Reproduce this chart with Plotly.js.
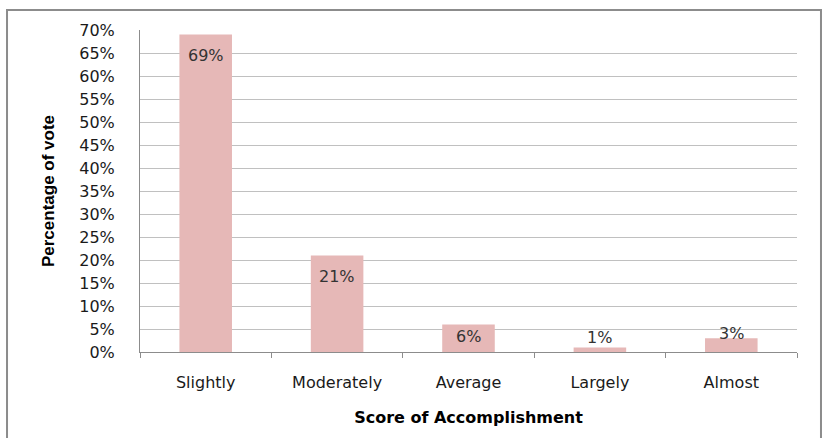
<!DOCTYPE html>
<html>
<head>
<meta charset="utf-8">
<script src="https://cdn.plot.ly/plotly-3.0.1.min.js"></script>
<style>
  html, body { margin: 0; padding: 0; background: #ffffff; }
  #chart { width: 835px; height: 438px; }
</style>
</head>
<body>
<div id="chart"></div>
<script>
const categories = ["Slightly", "Moderately", "Average", "Largely", "Almost"];
const percentages = [69, 21, 6, 1, 3];
const yTickValues = [0, 5, 10, 15, 20, 25, 30, 35, 40, 45, 50, 55, 60, 65, 70];

const yMax = 70;
const plotHeightPx = 322;

const barTrace = {
  type: "bar",
  x: categories,
  y: percentages,
  marker: { color: "#E6B8B7", line: { width: 0 } },
  hoverinfo: "skip",
  showlegend: false
};

const labelAnnotations = categories.map((c, i) => {
  const v = percentages[i];
  const barPx = v / yMax * plotHeightPx;
  const shift = v >= 5 ? -Math.min(21, barPx * 0.45) : (v < 2 ? 10 : 5);
  return {
    x: c, y: v, xref: "x", yref: "y",
    text: v + "%", showarrow: false,
    yanchor: "middle",
    yshift: shift,
    font: { family: "DejaVu Sans", size: 16, color: "#333333" }
  };
});

const layout = {
  width: 835,
  height: 438,
  margin: { l: 140, r: 38, t: 30, b: 86 },
  paper_bgcolor: "#ffffff",
  plot_bgcolor: "#ffffff",
  bargap: 0.6,
  font: { family: "DejaVu Sans", color: "#1a1a1a" },
  xaxis: {
    type: "category",
    tickson: "boundaries",
    ticks: "outside",
    ticklen: 5,
    tickcolor: "#8c8c8c",
    showline: true,
    linecolor: "#8c8c8c",
    linewidth: 1,
    showgrid: false,
    zeroline: false,
    tickfont: { family: "DejaVu Sans", size: 16, color: "#1a1a1a" },
    ticklabelstandoff: 16,
    title: {
      text: "<b>Score of Accomplishment</b>",
      font: { family: "DejaVu Sans", size: 16, color: "#000000" },
      standoff: 20
    },
    fixedrange: true
  },
  yaxis: {
    range: [0, yMax],
    tickvals: yTickValues,
    ticktext: yTickValues.map(v => v + "%"),
    ticks: "outside",
    ticklen: 21,
    tickcolor: "rgba(0,0,0,0)",
    showline: true,
    linecolor: "#8c8c8c",
    linewidth: 1,
    showgrid: true,
    gridcolor: "#c0c0c0",
    gridwidth: 1,
    zeroline: false,
    tickfont: { family: "DejaVu Sans", size: 16, color: "#1a1a1a" },
    title: {
      text: "<b>Percentage of vote</b>",
      font: { family: "Liberation Sans Narrow, Liberation Sans", size: 17, color: "#000000" },
      standoff: 20
    },
    fixedrange: true
  },
  shapes: [
    {
      type: "rect", xref: "paper", yref: "paper",
      x0: -0.2024, x1: 1.0365, y0: -0.33, y1: 1.0621,
      line: { color: "#8c8c8c", width: 2 },
      fillcolor: "rgba(0,0,0,0)",
      layer: "below"
    }
  ],
  annotations: labelAnnotations
};

Plotly.newPlot("chart", [barTrace], layout, { displayModeBar: false, staticPlot: true });
</script>
</body>
</html>
